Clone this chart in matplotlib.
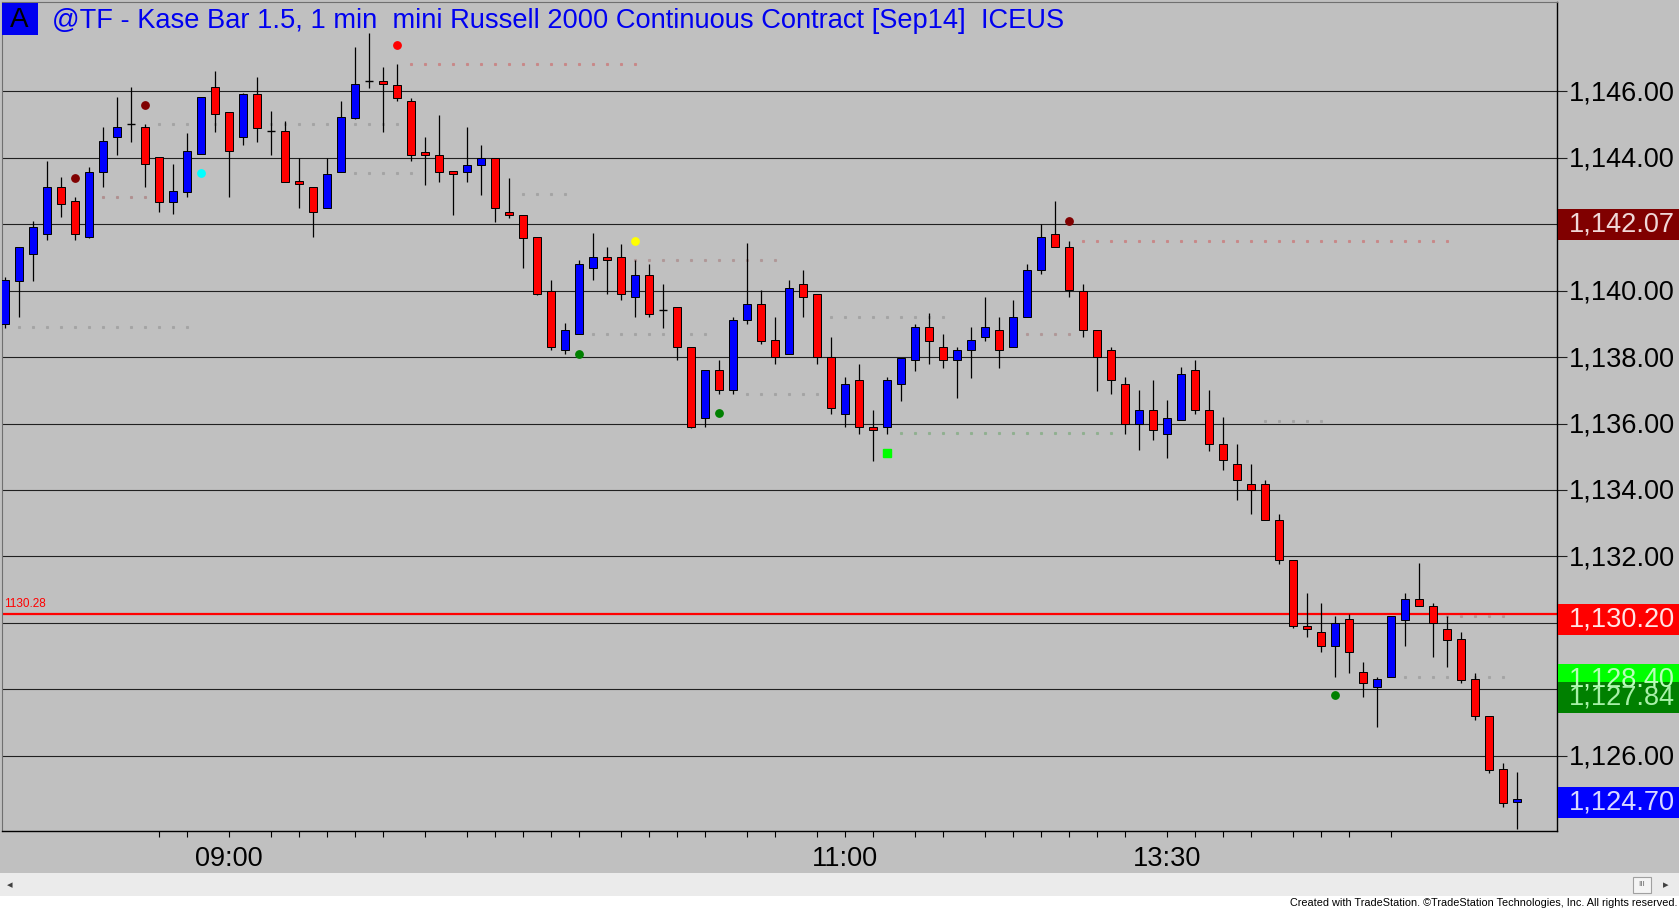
import matplotlib
matplotlib.use('Agg')
import matplotlib.pyplot as plt
import matplotlib.transforms as mtransforms
from matplotlib.patches import Rectangle

plt.rcParams['font.family'] = ['Liberation Sans', 'DejaVu Sans']

# ---- data ----
opens = [1138.98, 1140.30, 1141.09, 1141.70, 1143.10, 1142.68, 1141.60, 1143.57, 1144.61, 1145.01,
         1144.91, 1144.00, 1142.67, 1142.97, 1144.10, 1146.11, 1145.38, 1144.61, 1145.91, 1144.80,
         1144.80, 1143.28, 1143.10, 1142.49, 1143.57, 1145.20, 1146.29, 1146.29, 1146.19, 1145.69,
         1144.16, 1144.08, 1143.56, 1143.56, 1143.78, 1143.99, 1142.37, 1142.28, 1141.60, 1139.99,
         1138.20, 1138.69, 1140.69, 1141.00, 1141.00, 1139.81, 1140.48, 1139.41, 1139.49, 1138.31,
         1136.18, 1137.60, 1137.00, 1139.11, 1139.59, 1138.51, 1138.08, 1140.19, 1139.88, 1138.00,
         1136.28, 1137.30, 1135.90, 1135.89, 1137.18, 1137.90, 1138.91, 1138.31, 1137.90, 1138.20,
         1138.59, 1138.81, 1138.31, 1139.21, 1140.61, 1141.70, 1141.32, 1139.99, 1138.81, 1138.20,
         1137.18, 1135.99, 1136.40, 1135.67, 1136.10, 1137.60, 1136.40, 1135.38, 1134.78, 1134.18,
         1134.18, 1133.10, 1131.90, 1129.90, 1129.73, 1129.30, 1130.12, 1128.52, 1128.09, 1128.39,
         1130.10, 1130.72, 1130.50, 1129.82, 1129.52, 1128.31, 1127.21, 1125.60, 1124.61]
highs = [1140.40, 1141.32, 1142.09, 1143.90, 1143.42, 1142.82, 1143.70, 1144.93, 1145.83, 1146.13,
         1145.01, 1144.00, 1143.80, 1144.73, 1145.81, 1146.61, 1145.38, 1145.95, 1146.43, 1145.41,
         1145.10, 1144.00, 1143.10, 1144.00, 1145.71, 1147.33, 1147.73, 1146.72, 1146.80, 1145.80,
         1144.61, 1145.29, 1143.56, 1144.91, 1144.38, 1143.99, 1143.39, 1142.28, 1141.60, 1140.31,
         1139.01, 1140.92, 1141.72, 1141.32, 1141.40, 1140.92, 1140.80, 1140.19, 1139.49, 1138.31,
         1137.60, 1137.90, 1139.21, 1141.42, 1140.01, 1139.21, 1140.31, 1140.61, 1139.88, 1138.61,
         1137.40, 1137.80, 1136.42, 1137.40, 1137.98, 1138.99, 1139.31, 1138.69, 1138.31, 1138.91,
         1139.81, 1139.21, 1139.71, 1140.80, 1142.00, 1142.70, 1141.50, 1140.19, 1138.81, 1138.31,
         1137.40, 1137.02, 1137.30, 1136.70, 1137.70, 1137.90, 1137.00, 1136.20, 1135.38, 1134.78,
         1134.30, 1133.28, 1131.90, 1130.90, 1130.60, 1130.22, 1130.28, 1128.84, 1128.39, 1130.20,
         1130.90, 1131.80, 1130.60, 1130.22, 1129.72, 1128.51, 1127.21, 1125.80, 1125.51]
lows = [1138.88, 1139.19, 1140.30, 1141.52, 1142.20, 1141.52, 1141.58, 1143.10, 1144.08, 1144.48,
        1143.10, 1142.37, 1142.30, 1142.80, 1144.10, 1144.78, 1142.80, 1144.38, 1144.48, 1144.08,
        1143.27, 1142.49, 1141.60, 1142.49, 1143.57, 1145.15, 1146.10, 1144.76, 1145.70, 1143.88,
        1143.18, 1143.26, 1142.28, 1143.26, 1142.87, 1142.07, 1142.18, 1140.67, 1139.85, 1138.20,
        1138.08, 1138.69, 1140.31, 1139.88, 1139.71, 1139.19, 1139.19, 1138.88, 1137.90, 1135.87,
        1135.89, 1136.88, 1136.88, 1138.99, 1138.39, 1137.78, 1138.08, 1139.19, 1137.78, 1136.28,
        1135.88, 1135.67, 1134.87, 1135.67, 1136.68, 1137.58, 1137.78, 1137.68, 1136.78, 1137.38,
        1138.49, 1137.68, 1138.31, 1139.21, 1140.49, 1141.30, 1139.79, 1138.61, 1136.98, 1136.88,
        1135.67, 1135.19, 1135.49, 1134.97, 1136.10, 1136.28, 1135.17, 1134.60, 1133.70, 1133.28,
        1133.10, 1131.78, 1129.85, 1129.58, 1129.12, 1128.39, 1128.51, 1127.77, 1126.88, 1128.39,
        1129.30, 1130.50, 1128.97, 1128.67, 1128.21, 1127.09, 1125.50, 1124.47, 1123.79]
closes = [1140.32, 1141.30, 1141.90, 1143.10, 1142.59, 1141.70, 1143.57, 1144.50, 1144.91, 1145.01,
          1143.79, 1142.67, 1142.99, 1144.20, 1145.81, 1145.31, 1144.20, 1145.91, 1144.90, 1144.80,
          1143.27, 1143.19, 1142.37, 1143.50, 1145.21, 1146.21, 1146.29, 1146.20, 1145.80, 1144.08,
          1144.08, 1143.56, 1143.49, 1143.78, 1143.99, 1142.48, 1142.28, 1141.58, 1139.88, 1138.31,
          1138.81, 1140.80, 1141.00, 1140.92, 1139.88, 1140.48, 1139.28, 1139.41, 1138.31, 1135.89,
          1137.60, 1137.00, 1139.11, 1139.59, 1138.49, 1138.00, 1140.09, 1139.79, 1138.00, 1136.48,
          1137.18, 1135.89, 1135.80, 1137.30, 1137.98, 1138.91, 1138.49, 1137.90, 1138.20, 1138.51,
          1138.91, 1138.20, 1139.21, 1140.61, 1141.60, 1141.30, 1140.01, 1138.81, 1138.00, 1137.30,
          1135.99, 1136.40, 1135.80, 1136.18, 1137.48, 1136.40, 1135.37, 1134.90, 1134.30, 1134.00,
          1133.10, 1131.90, 1129.90, 1129.82, 1129.30, 1130.00, 1129.12, 1128.21, 1128.31, 1130.20,
          1130.72, 1130.50, 1130.00, 1129.50, 1128.29, 1127.19, 1125.58, 1124.59, 1124.70]

# indicator dots
dot_bars = [5, 10, 14, 28, 41, 45, 51, 63, 76, 95]
dot_prices = [1143.37, 1145.57, 1143.52, 1147.38, 1138.10, 1141.49, 1136.32, 1135.11, 1142.10, 1127.82]
dot_colors = ['#800000', '#800000', '#00FFFF', '#FF0000', '#008000',
              '#FFFF00', '#008000', '#00FF00', '#800000', '#008000']

# faint dotted indicator levels: price, first bar, last bar, colour
level_prices = [1146.81, 1145.00, 1142.82, 1143.54, 1142.90, 1138.91, 1140.92, 1138.69, 1138.69,
                1136.90, 1141.50, 1139.21, 1135.70, 1136.08, 1130.20, 1128.39]
level_start = [29, 11, 7, 25, 37, 1, 45, 42, 73, 53, 77, 59, 64, 90, 103, 100]
level_end = [45, 28, 10, 29, 40, 13, 55, 50, 76, 58, 103, 67, 79, 94, 107, 107]
level_colors = ['#C88888', '#A4A4A4', '#B09090', '#A4A4A4', '#A4A4A4', '#A4A4A4', '#B09898', '#A4A4A4',
                '#B09898', '#A4A4A4', '#C88888', '#A4A4A4', '#90B090', '#A4A4A4', '#B09898', '#A4A4A4']

price_ticks = [1126, 1132, 1134, 1136, 1138, 1140, 1144, 1146]
grid_prices = [1126, 1128, 1130, 1132, 1134, 1136, 1138, 1140, 1142, 1144, 1146]
time_ticks = [11, 13, 16, 19, 21, 23, 25, 27, 30, 33, 35, 37, 39, 41, 44, 46, 48, 50, 53, 55,
              58, 60, 62, 65, 67, 70, 72, 74, 76, 78, 80, 83, 85, 87, 89, 92, 94, 96, 99]
time_label_bars = [16, 60, 83]
time_labels = ['09:00', '11:00', '13:30']

last_prices = [1142.07, 1130.20, 1128.40, 1127.84, 1124.70]
last_colors = ['#800000', '#FF0000', '#00FF00', '#008000', '#0000FF']
last_text_colors = ['#F0D8D8', '#FFE4E4', '#B8FFB8', '#A8F0A8', '#D8D8FF']
alert_price = 1130.28

title = '@TF - Kase Bar 1.5, 1 min  mini Russell 2000 Continuous Contract [Sep14]  ICEUS'

# ---- layout in pixels ----
W, H = 1679, 909
BG = '#C0C0C0'
fig = plt.figure(figsize=(W / 100, H / 100), dpi=100, facecolor=BG)

ax_l, ax_r, ax_t, ax_b = 2, 1557, 2, 831
ax = fig.add_axes([ax_l / W, 1 - ax_b / H, (ax_r - ax_l) / W, (ax_b - ax_t) / H])
ax.set_facecolor(BG)
bar_px = 14.0
x0 = (ax_l - 5.3) / bar_px
ax.set_xlim(x0, x0 + (ax_r - ax_l) / bar_px)
px_per_pt = 33.25
top_price = 1146 + (91 - ax_t) / px_per_pt
ax.set_ylim(top_price - (ax_b - ax_t) / px_per_pt, top_price)

for s in ['left', 'top']:
    ax.spines[s].set_color('#707070')
    ax.spines[s].set_linewidth(0.8)
for s in ['right', 'bottom']:
    ax.spines[s].set_color('black')
    ax.spines[s].set_linewidth(1.0)

# grid
ax.hlines(grid_prices, x0, x0 + 200, colors='#202020', linewidth=0.8, zorder=1)
ax.axhline(alert_price, color='#FF0000', linewidth=1.6, zorder=1.5)
ax.text((4 - 5.3) / bar_px, alert_price + 0.12, f'{alert_price:.2f}', color='#FF0000',
        fontsize=8.5, ha='left', va='bottom')

# dotted levels
for p, a, b, c in zip(level_prices, level_start, level_end, level_colors):
    xs = list(range(a, b + 1))
    ax.plot(xs, [p] * len(xs), linestyle='none', marker='s', markersize=1.2,
            color=c, zorder=1.8)

# candles
body_w = 0.57
for i, (o, h, l, c) in enumerate(zip(opens, highs, lows, closes)):
    ax.vlines(i, l, h, color='black', linewidth=0.9, zorder=2)
    if abs(c - o) < 0.02:
        ax.hlines(o, i - body_w / 2, i + body_w / 2, color='black', linewidth=1.0, zorder=3)
        continue
    col = '#0000FF' if c > o else '#FF0000'
    lo = min(o, c)
    hgt = max(abs(c - o), 0.09)
    ax.add_patch(Rectangle((i - body_w / 2, lo), body_w, hgt, facecolor=col,
                           edgecolor='black', linewidth=0.7, zorder=3))

for b, p, c in zip(dot_bars, dot_prices, dot_colors):
    ax.plot(b, p, marker='s' if c == '#00FF00' else 'o', markersize=5.3, color=c,
            markeredgecolor=c, zorder=4)

# axes ticks
ax.yaxis.tick_right()
ax.set_yticks(grid_prices)
ax.set_yticklabels([])
ax.tick_params(axis='y', direction='out', length=7.5, width=0.8, color='#202020')
ax.set_xticks(time_ticks)
ax.set_xticklabels([])
ax.tick_params(axis='x', direction='out', length=4.5, width=0.8, color='black')

trans_r = mtransforms.blended_transform_factory(fig.transFigure, ax.transData)
lab_dy = 2 / px_per_pt
for p in price_ticks:
    ax.text(1675 / W, p - lab_dy, f'{p:,.2f}', transform=trans_r, ha='right', va='center',
            fontsize=19.5, color='black', clip_on=False)

box_h = 31 / px_per_pt
box_dy = 3 / px_per_pt
for p, bc, tc in zip(last_prices, last_colors, last_text_colors):
    ax.add_patch(Rectangle((1558 / W, p - box_dy - box_h / 2), (W - 1558) / W, box_h,
                           transform=trans_r, facecolor=bc, edgecolor='none',
                           clip_on=False, zorder=10))
    ax.text(1675 / W, p - box_dy, f'{p:,.2f}', transform=trans_r, ha='right', va='center',
            fontsize=19.5, color=tc, clip_on=False, zorder=11)

trans_b = mtransforms.blended_transform_factory(ax.transData, fig.transFigure)
for b, lab in zip(time_label_bars, time_labels):
    ax.text(b, 1 - 859 / H, lab, transform=trans_b, ha='center', va='center',
            fontsize=19.5, color='black', clip_on=False)

# title
fig.patches.append(Rectangle((2 / W, 1 - 35 / H), 35.5 / W, 32 / H, transform=fig.transFigure,
                             facecolor='#0000F0', edgecolor='none'))
fig.text(19.5 / W, 1 - 20 / H, 'A', fontsize=20, color='black', ha='center', va='center')
fig.text(52 / W, 1 - 21 / H, title, fontsize=19.6, color='#0000F0', ha='left', va='center')

# scrollbar and footer
fig.patches.append(Rectangle((0, 1 - 896 / H), 1, 23 / H, transform=fig.transFigure,
                             facecolor='#EBEBEB', edgecolor='none'))
fig.patches.append(Rectangle((0, 0), 1, 13 / H, transform=fig.transFigure,
                             facecolor='white', edgecolor='none'))
fig.patches.append(Rectangle((1633 / W, 1 - 893 / H), 18 / W, 16 / H, transform=fig.transFigure,
                             facecolor='#F4F4F4', edgecolor='#A0A0A0', linewidth=0.8))
fig.text(1642 / W, 1 - 885 / H, 'III', fontsize=6, color='#707070', ha='center', va='center')
fig.text(10 / W, 1 - 885 / H, '\u25c2', fontsize=8, color='#404040', ha='center', va='center')
fig.text(1666 / W, 1 - 885 / H, '\u25b8', fontsize=8, color='#404040', ha='center', va='center')
fig.text(1677 / W, 1 - 903 / H,
         'Created with TradeStation. \u00a9TradeStation Technologies, Inc. All rights reserved.',
         fontsize=7.8, color='black', ha='right', va='center')

fig.savefig('out.png', dpi=100, facecolor=BG)
